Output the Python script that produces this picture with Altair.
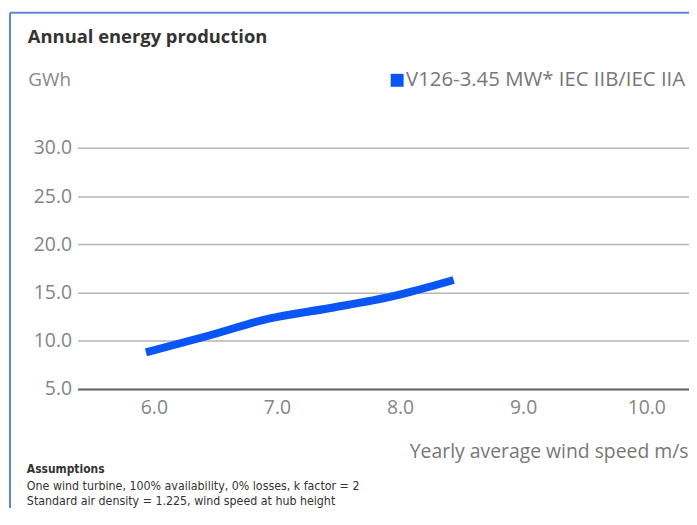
import altair as alt
import pandas as pd

# ---- data ----
wind_speed = [6.0, 6.5, 7.0, 7.5, 8.0, 8.5]
aep_gwh = [8.8, 10.5, 12.3, 13.4, 14.6, 16.3]
series_name = "V126-3.45 MW* IEC IIB/IEC IIA"
x_ticks = [6.0, 7.0, 8.0, 9.0, 10.0]
y_ticks = [5.0, 10.0, 15.0, 20.0, 25.0, 30.0]
chart_title = "Annual energy production"
y_title = "GWh"
x_title = "Yearly average wind speed m/s"
assumption_head = ["Assumptions"]
assumption_line1 = ["One wind turbine, 100% availability, 0% losses, k factor = 2"]
assumption_line2 = ["Standard air density = 1.225, wind speed at hub height"]

BLUE = "#0a55f5"
FRAME = "#5b86d8"
GRAY = "#858585"
FONT = "Open Sans"
NARROW = "'Liberation Sans Narrow', 'DejaVu Sans Condensed', 'Liberation Sans', sans-serif"

df = pd.DataFrame({"speed": wind_speed, "aep": aep_gwh, "series": series_name})

W, H = 616, 243
x_scale = alt.Scale(domain=[5.444, 5.444 + W / 124.0], nice=False, zero=False)
y_scale = alt.Scale(domain=[5, 30], nice=False, zero=False)

line = alt.Chart(df).mark_line(color=BLUE, strokeWidth=8, interpolate="monotone", strokeCap="butt").encode(
    x=alt.X("speed:Q", scale=x_scale, axis=alt.Axis(
        values=x_ticks, format=".1f", labelOffset=8, grid=False, ticks=False,
        domainColor="#666666", domainWidth=2, labelPadding=10, labelFontSize=19.5,
        labelColor=GRAY, labelFont=FONT, labelFlush=False,
        title=x_title, titleX=W - 1, titleY=63, titleAlign="right", titleBaseline="middle",
        titleFontSize=19.5, titleFontWeight="normal", titleColor="#777777", titleFont=FONT)),
    y=alt.Y("aep:Q", scale=y_scale, axis=alt.Axis(
        values=y_ticks, format=".1f", grid=True, gridColor="#b5b5b5", gridWidth=1.5,
        ticks=False, domain=False, labelPadding=6, labelFontSize=19.5, labelColor=GRAY,
        labelFont=FONT, title=y_title, titleAngle=0, titleX=-50, titleY=-69,
        titleAlign="left", titleBaseline="middle", titleFontSize=19,
        titleFontWeight="normal", titleColor="#888888", titleFont=FONT)),
)

title = alt.Chart(pd.DataFrame({"t": [chart_title]})).mark_text(
    align="left", baseline="middle", fontSize=18.5, fontWeight="bold", font=FONT, color="#333333"
).encode(x=alt.value(-50), y=alt.value(-112), text="t:N")

legend_sq = alt.Chart(pd.DataFrame({"s": [series_name]})).mark_square(
    size=170, color=BLUE, opacity=1
).encode(x=alt.value(322), y=alt.value(-68))

legend_txt = alt.Chart(pd.DataFrame({"s": [series_name]})).mark_text(
    align="left", baseline="middle", fontSize=20.5, font=FONT, color="#777777"
).encode(x=alt.value(331), y=alt.value(-68), text="s:N")

a0 = alt.Chart(pd.DataFrame({"t": assumption_head})).mark_text(
    align="left", baseline="middle", fontSize=12, fontWeight="bold", font=NARROW, color="#333333"
).encode(x=alt.value(-51), y=alt.value(324), text="t:N")
a1 = alt.Chart(pd.DataFrame({"t": assumption_line1})).mark_text(
    align="left", baseline="middle", fontSize=12.4, font=NARROW, color="#333333"
).encode(x=alt.value(-51), y=alt.value(341), text="t:N")
a2 = alt.Chart(pd.DataFrame({"t": assumption_line2})).mark_text(
    align="left", baseline="middle", fontSize=12.4, font=NARROW, color="#333333"
).encode(x=alt.value(-51), y=alt.value(356), text="t:N")

one = pd.DataFrame({"k": [0]})
frame_top = alt.Chart(one).mark_rule(color=FRAME, strokeWidth=2).encode(
    x=alt.value(-68), x2=alt.value(W + 20), y=alt.value(-136))
frame_left = alt.Chart(one).mark_rule(color=FRAME, strokeWidth=2).encode(
    x=alt.value(-68), y=alt.value(-136), y2=alt.value(400))

chart = alt.layer(frame_top, frame_left, line, title, legend_sq, legend_txt, a0, a1, a2).properties(
    width=W, height=H,
    autosize=alt.AutoSizeParams(type="none"),
    padding={"left": 70, "top": 139, "right": 0, "bottom": 118},
).configure_view(strokeWidth=0)

chart.save("out.html", embed_options={"renderer": "svg", "actions": False})
